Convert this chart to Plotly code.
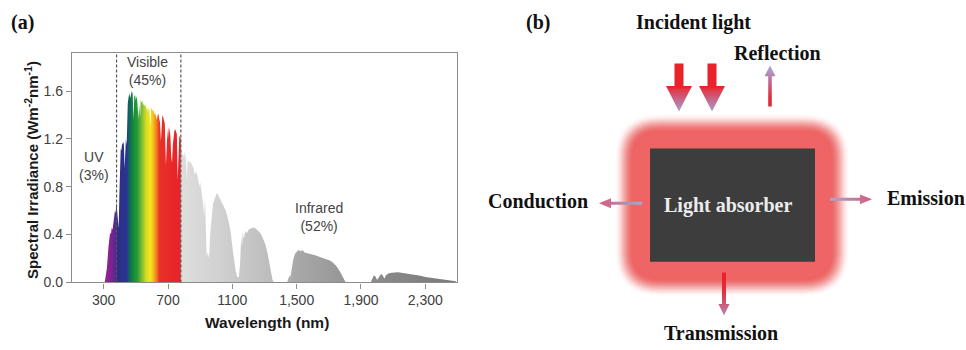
import plotly.graph_objects as go

# ---------------- data ----------------
uvvis_nm = [300, 306, 310, 320, 330, 335, 340, 345, 350, 355, 360, 365, 370, 375, 378, 382, 388, 393,
            398, 402, 406, 410, 415, 420, 425, 430, 433, 438, 443, 446, 450, 455, 460, 465, 470, 475,
            480, 486, 490, 495, 500, 505, 510, 516, 520, 527, 530, 535, 540, 545, 550, 555, 560, 565,
            570, 575, 580, 585, 590, 595, 600, 605, 610, 615, 620, 625, 630, 635, 640, 645, 650, 656,
            660, 665, 670, 675, 680, 687, 692, 697, 700, 705, 710, 715, 720, 725, 730, 735, 740, 745,
            750, 755, 760, 765, 770, 775, 780]
uvvis_irr = [0.0, 0.0, 0.03, 0.12, 0.30, 0.38, 0.42, 0.40, 0.46, 0.44, 0.50, 0.54, 0.60, 0.58, 0.67, 0.62, 0.52, 0.45,
             0.75, 1.05, 1.12, 1.10, 1.17, 1.15, 1.18, 0.95, 1.12, 1.20, 1.15, 1.35, 1.50, 1.55, 1.58, 1.54, 1.57, 1.60,
             1.58, 1.36, 1.55, 1.57, 1.52, 1.56, 1.50, 1.36, 1.49, 1.38, 1.53, 1.50, 1.52, 1.48, 1.50, 1.47, 1.49, 1.44,
             1.47, 1.42, 1.46, 1.44, 1.30, 1.45, 1.46, 1.43, 1.44, 1.40, 1.42, 1.38, 1.36, 1.40, 1.41, 1.37, 1.34, 1.18,
             1.38, 1.40, 1.38, 1.35, 1.33, 0.98, 1.25, 1.28, 1.20, 1.30, 1.27, 1.22, 1.05, 1.00, 1.15, 1.24, 1.27, 1.28,
             1.26, 1.24, 0.85, 1.18, 1.22, 1.22, 1.20]

ir_nm = [780, 783, 790, 800, 805, 812, 818, 822, 830, 840, 850, 858, 866, 875, 885, 895, 900, 905, 912, 918,
         925, 930, 935, 940, 948, 955, 962, 970, 980, 990, 1000, 1005, 1015, 1030, 1045, 1060, 1075, 1090, 1100,
         1110, 1120, 1130, 1140, 1148, 1155, 1160, 1165, 1172, 1180, 1190, 1200, 1215, 1230, 1245, 1260, 1275,
         1290, 1305, 1318, 1330, 1340, 1350, 1360, 1440, 1448, 1455, 1460, 1470, 1480, 1490, 1500, 1510, 1525,
         1535, 1550, 1570, 1590, 1610, 1630, 1650, 1670, 1690, 1710, 1730, 1750, 1770, 1785, 1795, 1805, 1960,
         1970, 1980, 1990, 2000, 2010, 2025, 2035, 2045, 2055, 2070, 2090, 2110, 2130, 2150, 2180, 2210, 2240,
         2270, 2300, 2330, 2360, 2390, 2420, 2450, 2470, 2490]
ir_irr = [1.10, 1.12, 1.08, 1.05, 1.10, 1.02, 0.85, 1.04, 1.00, 1.01, 0.98, 0.96, 0.90, 0.93, 0.88, 0.80, 0.84, 0.76, 0.72, 0.66,
          0.55, 0.72, 0.40, 0.22, 0.25, 0.20, 0.40, 0.55, 0.66, 0.70, 0.74, 0.75, 0.72, 0.68, 0.64, 0.60, 0.52, 0.42, 0.30,
          0.20, 0.10, 0.05, 0.04, 0.15, 0.38, 0.30, 0.42, 0.36, 0.43, 0.41, 0.44, 0.45, 0.46, 0.45, 0.43, 0.41,
          0.37, 0.32, 0.25, 0.16, 0.08, 0.02, 0.0, 0.0, 0.03, 0.06, 0.04, 0.12, 0.20, 0.24, 0.26, 0.27, 0.26,
          0.27, 0.25, 0.24, 0.235, 0.23, 0.22, 0.21, 0.20, 0.19, 0.18, 0.16, 0.13, 0.09, 0.05, 0.02, 0.0, 0.0,
          0.03, 0.06, 0.05, 0.02, 0.04, 0.07, 0.06, 0.03, 0.06, 0.075, 0.08, 0.085, 0.085, 0.08, 0.075, 0.07, 0.06,
          0.055, 0.045, 0.04, 0.035, 0.03, 0.025, 0.02, 0.015, 0.01]

region_bounds_nm = [380, 780]
region_labels = ["UV<br>(3%)", "Visible<br>(45%)", "Infrared<br>(52%)"]
region_label_pos = [(240, 0.97), (575, 1.77), (1639, 0.55)]

x_tick_vals = [300, 700, 1100, 1500, 1900, 2300]
x_tick_text = ["300", "700", "1100", "1,500", "1,900", "2,300"]
y_tick_vals = [0.0, 0.4, 0.8, 1.2, 1.6]

# ---------------- styles ----------------
SANS = "Liberation Sans, Arial, sans-serif"
SERIF = "Liberation Serif, Times New Roman, serif"
W, H = 966, 350

rainbow_stops = [(300, "#a0208c"), (350, "#7a2392"), (378, "#4e2a8e"), (385, "#2c2d88"), (445, "#2a3590"),
                 (455, "#125d6a"), (475, "#0f8040"), (510, "#2a9c38"), (540, "#86c030"), (565, "#d8dc24"),
                 (590, "#f4e81e"), (610, "#f5b81c"), (630, "#f07822"), (648, "#e8302a"), (780, "#e82228")]
gray_stops = [(780, "#dedede"), (1000, "#d2d2d2"), (1350, "#bcbcbc"), (1500, "#a8a8a8"),
              (1800, "#969696"), (2000, "#8a8a8a"), (2500, "#7a7a7a")]


def scale_from(stops):
    a, b = stops[0][0], stops[-1][0]
    return [[(w - a) / (b - a), c] for w, c in stops], a, b


fig = go.Figure()

cs, a, b = scale_from(rainbow_stops)
fig.add_trace(go.Scatter(x=uvvis_nm, y=uvvis_irr, mode="lines", line=dict(width=0), fill="tozeroy",
                         fillgradient=dict(type="horizontal", colorscale=cs, start=a, stop=b),
                         hoverinfo="skip", showlegend=False, xaxis="x", yaxis="y"))
cs, a, b = scale_from(gray_stops)
fig.add_trace(go.Scatter(x=ir_nm, y=ir_irr, mode="lines", line=dict(width=0), fill="tozeroy",
                         fillgradient=dict(type="horizontal", colorscale=cs, start=a, stop=b),
                         hoverinfo="skip", showlegend=False, xaxis="x", yaxis="y"))

shapes = []
for xb in region_bounds_nm:
    shapes.append(dict(type="line", xref="x", yref="y domain", x0=xb, x1=xb, y0=0, y1=1,
                       line=dict(color="#555555", width=1.2, dash="3px,2px"), layer="above"))

annotations = []
for txt, (xx, yy) in zip(region_labels, region_label_pos):
    annotations.append(dict(x=xx, y=yy, xref="x", yref="y", text=txt, showarrow=False,
                            xanchor="center", yanchor="middle",
                            font=dict(family=SANS, size=14, color="#444444"), align="center"))


def paper_text(text, px, py, font, angle=0):
    annotations.append(dict(x=px / W, y=1 - py / H, xref="paper", yref="paper", text=text,
                            showarrow=False, xanchor="center", yanchor="middle", textangle=angle,
                            font=font))


paper_text("<b>Wavelength (nm)</b>", 267, 330, dict(family=SANS, size=15.5, color="#1a1a1a"))
paper_text("<b>Spectral Irradiance (Wm<sup>-2</sup>nm<sup>-1</sup>)</b>", 31, 174,
           dict(family=SANS, size=15, color="#1a1a1a"), angle=-90)
paper_text("<b>(a)</b>", 22, 23, dict(family=SERIF, size=20, color="#111111"))
paper_text("<b>(b)</b>", 538, 23, dict(family=SERIF, size=20, color="#111111"))

# ---------------- panel (b): diagram in pixel space ----------------
def rrect(x0, y0, x1, y1, r):
    return (f"M{x0 + r},{y0} L{x1 - r},{y0} Q{x1},{y0} {x1},{y0 + r} L{x1},{y1 - r} "
            f"Q{x1},{y1} {x1 - r},{y1} L{x0 + r},{y1} Q{x0},{y1} {x0},{y1 - r} "
            f"L{x0},{y0 + r} Q{x0},{y0} {x0 + r},{y0} Z")


GLOW = "#ef6464"
core = (634, 136, 830, 284)
FADE, STEP = 20.0, 0.5
n_layers = int(FADE / STEP)


def cover(e):
    t = min(max(e / FADE, 0.0), 1.0)
    return 1.0 - (3 * t * t - 2 * t * t * t)


prev_c = 0.0
for k in range(n_layers, 0, -1):
    e = k * STEP
    c = cover(e - STEP * 0.5)
    op = 1.0 - (1.0 - c) / (1.0 - prev_c) if prev_c < 1 else 1.0
    prev_c = c
    shapes.append(dict(type="path", xref="x2", yref="y2", layer="below",
                       path=rrect(core[0] - e, core[1] - e, core[2] + e, core[3] + e, 26 + e),
                       fillcolor=GLOW, opacity=max(min(op, 1.0), 0.0), line=dict(width=0)))
shapes.append(dict(type="path", xref="x2", yref="y2", layer="below",
                   path=rrect(*core, 26), fillcolor=GLOW, line=dict(width=0)))
shapes.append(dict(type="rect", xref="x2", yref="y2", layer="below", x0=650, x1=815, y0=152, y1=268,
                   fillcolor="#3d3d3d", line=dict(width=0)))

RED = "#e8232b"
LAV = "#a8a8d8"


def arrow(tail, tip, sw, hl, hw, colorscale):
    (x0, y0), (x1, y1) = tail, tip
    dx, dy = x1 - x0, y1 - y0
    L = (dx * dx + dy * dy) ** 0.5
    ux, uy = dx / L, dy / L
    px, py = -uy, ux
    bx, by = x1 - ux * hl, y1 - uy * hl
    pts = [(x0 + px * sw, y0 + py * sw), (bx + px * sw, by + py * sw), (bx + px * hw, by + py * hw),
           (x1, y1), (bx - px * hw, by - py * hw), (bx - px * sw, by - py * sw), (x0 - px * sw, y0 - py * sw)]
    xs = [p[0] for p in pts] + [pts[0][0]]
    ys = [p[1] for p in pts] + [pts[0][1]]
    horizontal = abs(dx) > abs(dy)
    if horizontal:
        lo, hi = min(x0, x1), max(x0, x1)
        cs_ = colorscale if x0 < x1 else [[1 - p, c] for p, c in reversed(colorscale)]
    else:
        lo, hi = min(y0, y1), max(y0, y1)
        cs_ = colorscale if y0 < y1 else [[1 - p, c] for p, c in reversed(colorscale)]
    fig.add_trace(go.Scatter(x=xs, y=ys, mode="lines", line=dict(width=0), fill="toself",
                             fillgradient=dict(type="horizontal" if horizontal else "vertical",
                                               colorscale=cs_, start=lo, stop=hi),
                             hoverinfo="skip", showlegend=False, xaxis="x2", yaxis="y2"))


inc_cs = [[0, RED], [0.46, RED], [0.5, "#e03848"], [0.72, "#c46a8e"], [1, LAV]]
arrow((679, 65), (679, 114), 4.5, 26, 13, inc_cs)
arrow((712, 65), (712, 114), 4.5, 26, 13, inc_cs)
thin_cs = [[0, RED], [0.3, "#e03040"], [0.7, "#c0709a"], [1, LAV]]
arrow((770, 109), (770, 67), 1.8, 11, 5.5, thin_cs)
arrow((724, 279), (724, 323), 2.0, 12, 5.5, thin_cs)
arrow((642, 208), (599, 208), 1.5, 12, 5.0, [[0, "#a4a8d8"], [1, "#d85a78"]])
arrow((830, 204), (872, 204), 1.5, 12, 5.0, [[0, "#a4a8d8"], [1, "#d85a78"]])

diagram_text = [("Incident light", 693, 23), ("Reflection", 777, 54), ("Conduction", 538, 206),
                ("Emission", 926, 203), ("Transmission", 721, 341)]
for t, xx, yy in diagram_text:
    annotations.append(dict(x=xx, y=yy, xref="x2", yref="y2", text=t, showarrow=False,
                            xanchor="center", yanchor="middle",
                            font=dict(family=SERIF, size=20, color="#111111", weight="bold")))
annotations.append(dict(x=728, y=210, xref="x2", yref="y2", text="Light absorber", showarrow=False,
                        xanchor="center", yanchor="middle",
                        font=dict(family=SERIF, size=20, color="#ececec", weight="bold")))

axis_line = "#8c8c8c"
fig.update_layout(
    width=W, height=H, margin=dict(l=0, r=0, t=0, b=0),
    paper_bgcolor="white", plot_bgcolor="rgba(0,0,0,0)", showlegend=False,
    xaxis=dict(domain=[72 / W, 457 / W], range=[103, 2497], tickvals=x_tick_vals, ticktext=x_tick_text,
               ticks="outside", ticklen=5, tickcolor=axis_line, showline=True, linecolor=axis_line,
               linewidth=1.3, mirror=True, showgrid=False, zeroline=False, anchor="y",
               tickfont=dict(family=SANS, size=14, color="#404040")),
    yaxis=dict(domain=[1 - 289 / H, 1 - 54 / H], range=[0, 1.92], tickvals=y_tick_vals, tickformat=".1f",
               ticks="outside", ticklen=5, tickcolor=axis_line, showline=True, linecolor=axis_line,
               linewidth=1.3, mirror=True, showgrid=False, zeroline=False, anchor="x",
               tickfont=dict(family=SANS, size=14, color="#404040")),
    xaxis2=dict(domain=[470 / W, 1], range=[470, 966], visible=False, anchor="y2", fixedrange=True),
    yaxis2=dict(domain=[0, 1], range=[350, 0], visible=False, anchor="x2", fixedrange=True),
    shapes=shapes, annotations=annotations,
)

fig.write_html("out.html", config={"displayModeBar": False},
               post_script="document.body.style.margin='0px';document.body.style.overflow='hidden';")
